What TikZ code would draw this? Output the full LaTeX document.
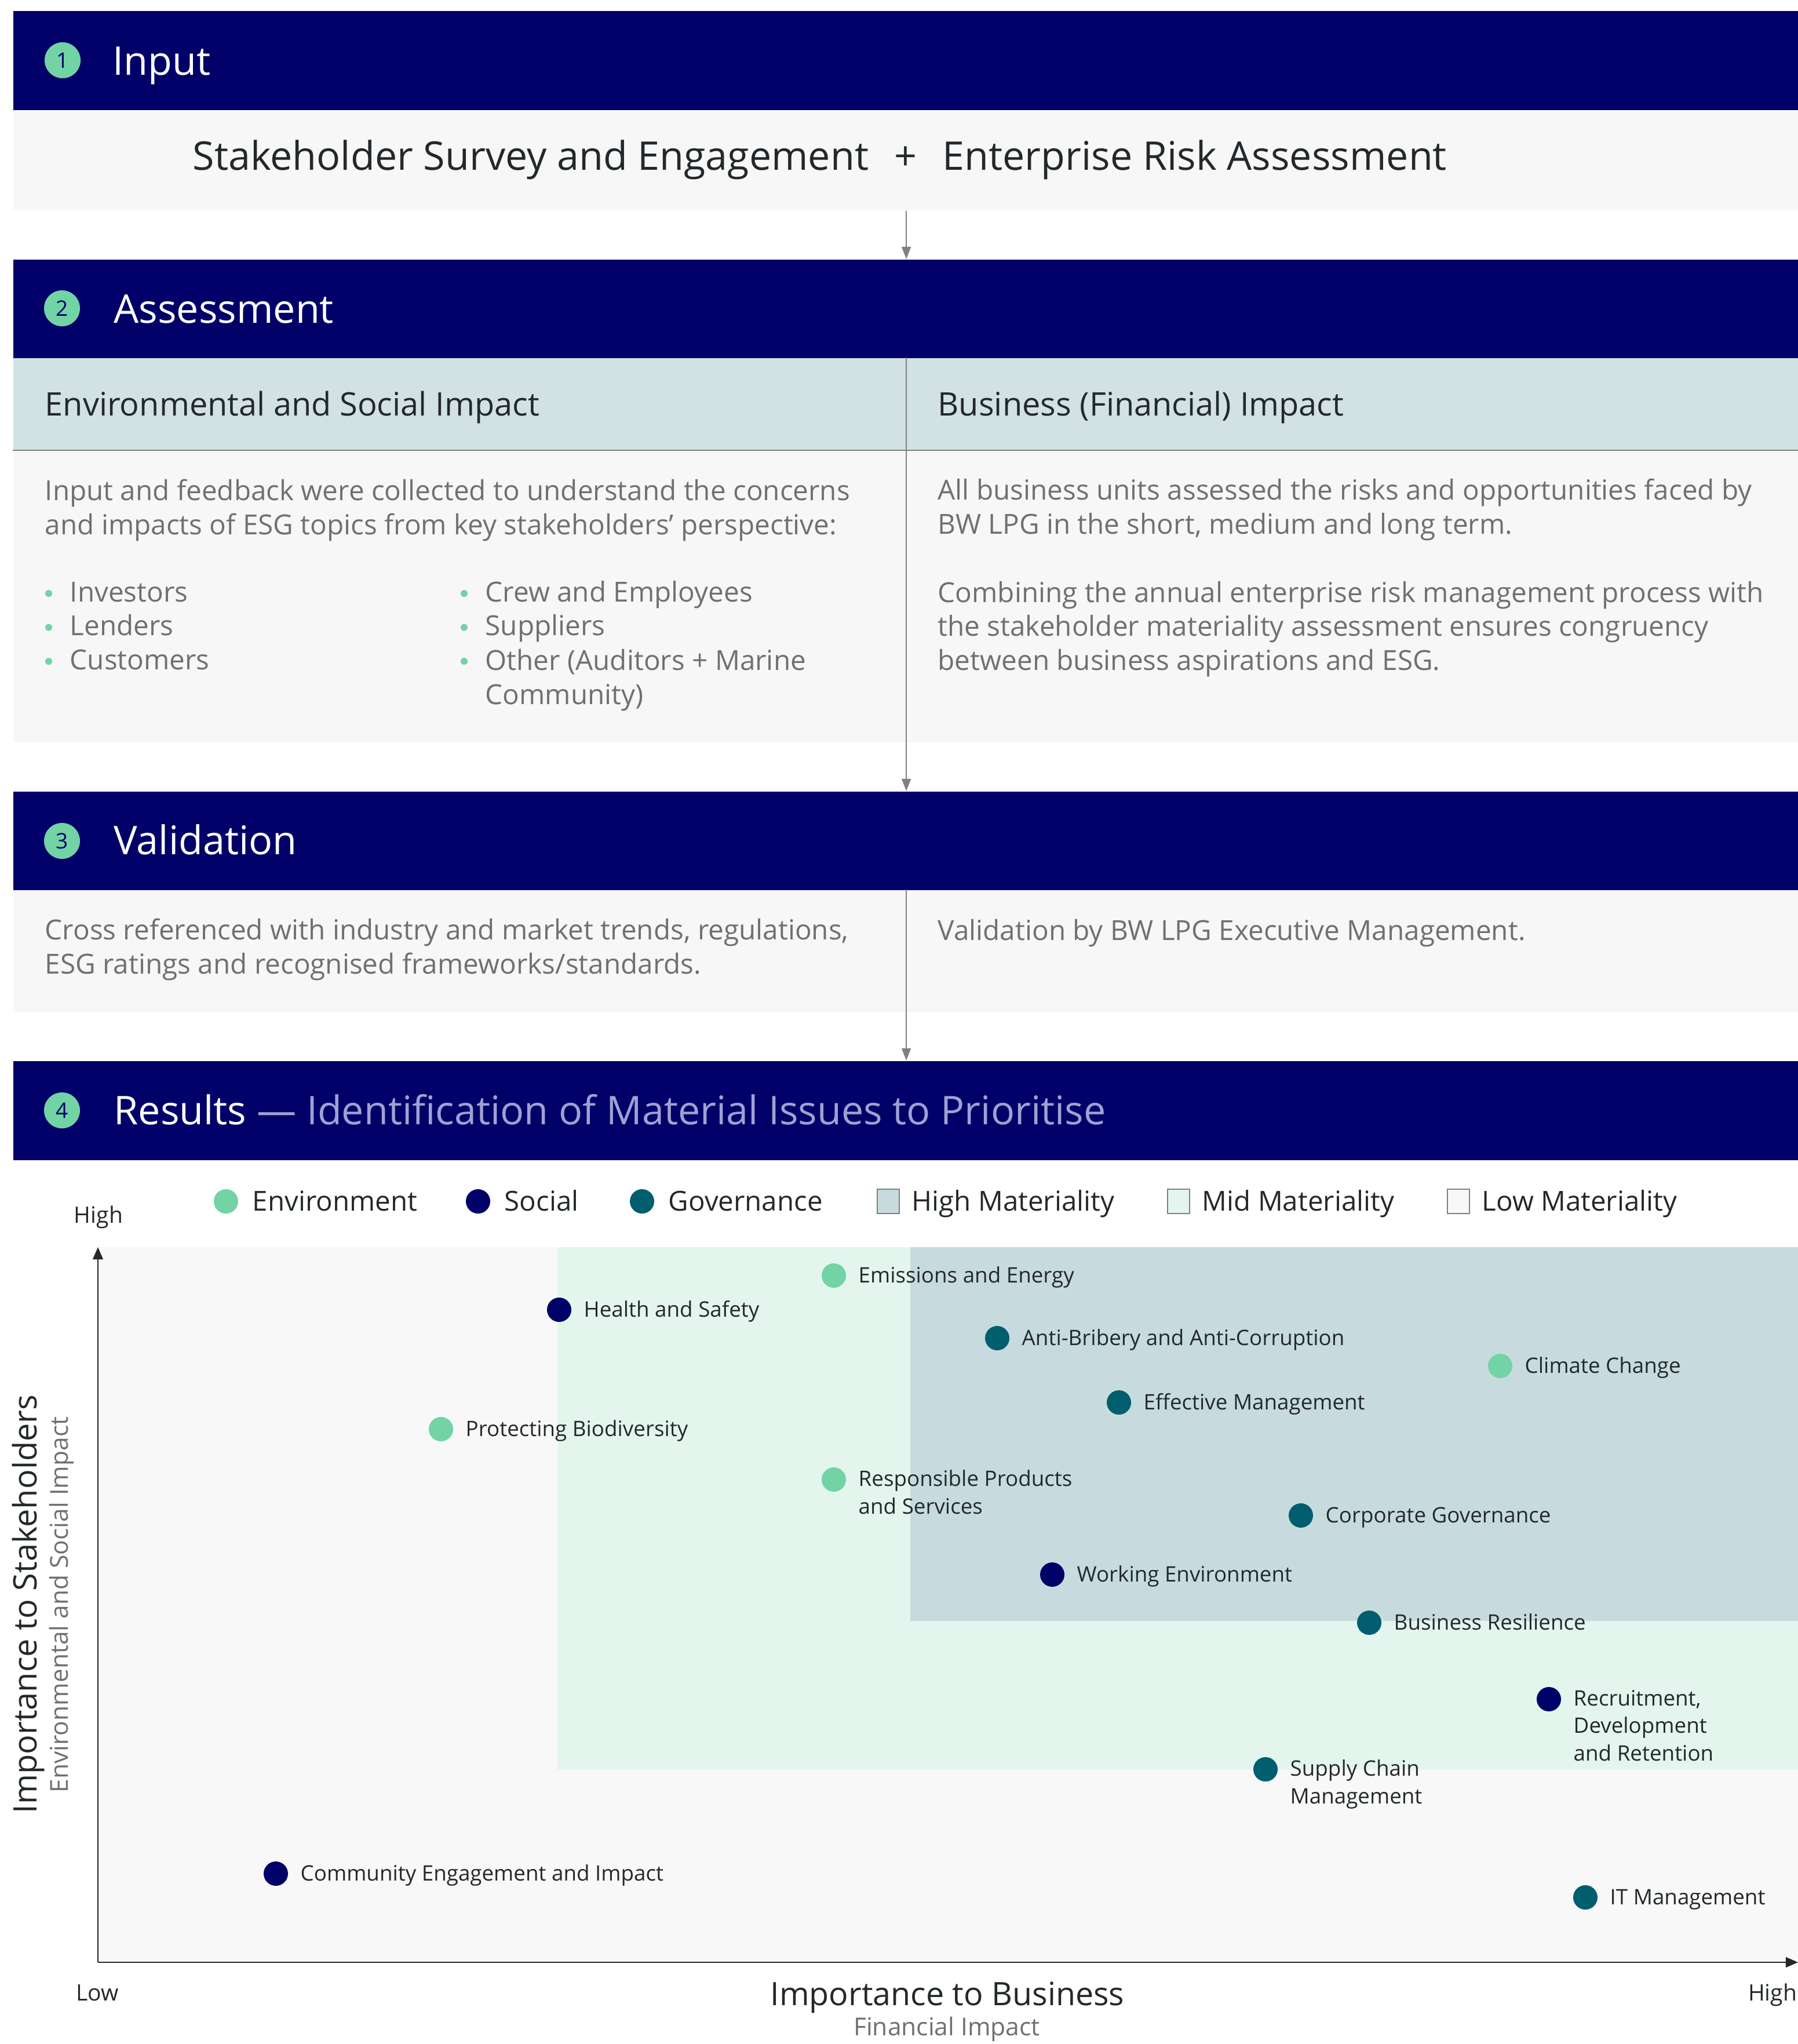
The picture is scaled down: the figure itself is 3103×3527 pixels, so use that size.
\documentclass[tikz,border=0pt]{standalone}
\usepackage{fontspec}
\setmainfont{Open Sans}
\usetikzlibrary{arrows.meta}

\definecolor{esgnavy}{HTML}{000068}
\definecolor{esggreen}{HTML}{72D3A5}
\definecolor{esgteal}{HTML}{005E6E}
\definecolor{highmat}{HTML}{C7DBDF}
\definecolor{midmat}{HTML}{E4F5EE}
\definecolor{lowmat}{HTML}{F8F8F8}
\definecolor{subrowfill}{HTML}{D2E1E4}
\definecolor{panelfill}{HTML}{F7F7F7}
\definecolor{inktext}{HTML}{23282B}
\definecolor{bodytext}{HTML}{707070}
\definecolor{lavender}{HTML}{A0A0D4}
\definecolor{arrowgray}{HTML}{808080}

\tikzset{
  bar/.style={anchor=north west, inner sep=0, minimum width=30.81cm},
  headbar/.style={bar, fill=esgnavy, minimum height=1.71cm},
  panel/.style={bar, fill=panelfill},
  subpanel/.style={bar, fill=subrowfill},
  stepnum/.style={circle, fill=esggreen, minimum size=0.62cm, inner sep=0,
    text=esgnavy, font=\fontsize{10.5}{11}\selectfont},
  headtitle/.style={anchor=base west, inner sep=0, text=white,
    font=\fontsize{19.4}{20}\selectfont},
  subtitle/.style={anchor=base west, inner sep=0, text=inktext,
    font=\fontsize{15.9}{19}\selectfont},
  bodytxt/.style={anchor=base west, inner sep=0, align=left, text=bodytext,
    font=\fontsize{13.55}{16.6}\selectfont},
  legtxt/.style={anchor=base west, inner sep=0, text=inktext,
    font=\fontsize{13.5}{15}\selectfont},
  topictxt/.style={anchor=base west, inner sep=0, align=left, text=inktext,
    font=\fontsize{10.45}{13.4}\selectfont},
  axistxt/.style={anchor=base, inner sep=0, text=inktext,
    font=\fontsize{11.1}{13}\selectfont},
  dot/.style={circle, fill=#1, minimum size=0.42cm, inner sep=0},
  legbox/.style={fill=#1, draw=arrowgray, line width=0.6pt, minimum width=0.38cm,
    minimum height=0.42cm, inner sep=0},
  flow/.style={draw=arrowgray, line width=0.6pt, -{Triangle[length=6pt,width=4.5pt]}},
  axis/.style={draw=inktext, line width=0.8pt, -{Triangle[length=6pt,width=5pt]}}
}

\begin{document}
\begin{tikzpicture}[x=0.01cm,y=-0.01cm]
  \useasboundingbox (0,0) rectangle (3103,3527);

  % Step bars and panels.
  \node[headbar] (head1) at (22,18) {};
  \node[panel, minimum height=1.73cm] (inbody) at (22,189) {};
  \node[headbar] (head2) at (22,447) {};
  \node[subpanel, minimum height=1.60cm] (subrow) at (22,617) {};
  \node[panel, minimum height=5.03cm] (asbody) at (22,777) {};
  \node[headbar] (head3) at (22,1365) {};
  \node[panel, minimum height=2.11cm] (valbody) at (22,1535) {};
  \node[headbar] (head4) at (22,1830) {};

  % Flow between the steps.
  \draw[arrowgray, line width=0.6pt] (asbody.north west) -- (asbody.north east);
  \draw[flow] (inbody.south) -- (head2.north);
  \draw[flow] (subrow.north) -- (head3.north);
  \draw[flow] (valbody.north) -- (head4.north);

  % Step headings.
  \node[stepnum] (num1) at (108,104) {1};
  \node[headtitle] (title1) at (194,130) {Input};
  \node[stepnum] (num2) at (107,532) {2};
  \node[headtitle] (title2) at (196,557) {Assessment};
  \node[stepnum] (num3) at (107,1451) {3};
  \node[headtitle] (title3) at (196,1474) {Validation};
  \node[stepnum] (num4) at (107,1916) {4};
  \node[headtitle] (title4) at (196,1940)
    {Results \textcolor{lavender}{— Identification of Material Issues to Prioritise}};

  % Step 1 content.
  \node[headtitle, text=inktext] (survey) at (332,293) {Stakeholder Survey and Engagement};
  \node[headtitle, text=inktext, anchor=base] (plus) at (1563,293) {+};
  \node[headtitle, text=inktext] (erisk) at (1626,293) {Enterprise Risk Assessment};

  % Step 2 content (multi-line nodes sit on their last baseline).
  \node[subtitle] (estitle) at (77,717) {Environmental and Social Impact};
  \node[subtitle] (bztitle) at (1618,717) {Business (Financial) Impact};
  \node[bodytxt] (esbody) at (77,922)
    {Input and feedback were collected to understand the concerns\\
     and impacts of ESG topics from key stakeholders’ perspective:};
  \foreach \txt [count=\i] in {Investors, Lenders, Customers} {
    \fill[esggreen] (84,{1024+(\i-1)*58.6}) circle (6);
    \node[bodytxt] (lista\i) at (120,{1038+(\i-1)*58.6}) {\txt};
  }
  \foreach \txt [count=\i] in {Crew and Employees, Suppliers} {
    \fill[esggreen] (801,{1024+(\i-1)*58.6}) circle (6);
    \node[bodytxt] (listb\i) at (837,{1038+(\i-1)*58.6}) {\txt};
  }
  \fill[esggreen] (801,1141) circle (6);
  \node[bodytxt] (listb3) at (837,1215) {Other (Auditors + Marine\\Community)};
  \node[bodytxt] (bzbodya) at (1618,921)
    {All business units assessed the risks and opportunities faced by\\
     BW LPG in the short, medium and long term.};
  \node[bodytxt] (bzbodyb) at (1618,1156)
    {Combining the annual enterprise risk management process with\\
     the stakeholder materiality assessment ensures congruency\\
     between business aspirations and ESG.};

  % Step 3 content.
  \node[bodytxt] (valleft) at (77,1680)
    {Cross referenced with industry and market trends, regulations,\\
     ESG ratings and recognised frameworks/standards.};
  \node[bodytxt] (valright) at (1618,1622) {Validation by BW LPG Executive Management.};

  % Legend.
  \foreach \lx/\lc/\lt [count=\i] in {390/esggreen/Environment, 825/esgnavy/Social, 1108/esgteal/Governance} {
    \node[dot=\lc] (legdot\i) at (\lx,2073) {};
    \node[legtxt] (legtxt\i) at ({\lx+45},2089) {\lt};
  }
  \foreach \lx/\lc/\lt [count=\i] in {1533/highmat/High Materiality, 2034/midmat/Mid Materiality, 2517/lowmat/Low Materiality} {
    \node[legbox=\lc] (legbox\i) at (\lx,2073) {};
    \node[legtxt] (legmat\i) at ({\lx+40},2089) {\lt};
  }

  % Materiality zones.
  \fill[lowmat] (169,2152) rectangle (3103,3386);
  \fill[midmat] (962,2152) rectangle (3103,3054);
  \fill[highmat] (1571,2152) rectangle (3103,2797);

  % Axes.
  \coordinate (origin) at (169,3386);
  \coordinate (ytop) at (169,2152);
  \coordinate (xend) at (3103,3386);
  \draw[axis] (origin) -- (ytop);
  \draw[axis] (origin) -- (xend);
  \node[axistxt] (yhigh) at (170,2110) {High};
  \node[axistxt] (xlow) at (168,3452) {Low};
  \node[axistxt] (xhigh) at (3059,3452) {High};
  \node[axistxt, font=\fontsize{15.8}{17}\selectfont] (xtitle) at (1635,3460) {Importance to Business};
  \node[axistxt, text=bodytext, font=\fontsize{12.1}{13}\selectfont] (xsub) at (1634,3512) {Financial Impact};
  \node[axistxt, rotate=90, font=\fontsize{15.9}{17}\selectfont] (ytitle) at (63,2768) {Importance to Stakeholders};
  \node[axistxt, rotate=90, text=bodytext, font=\fontsize{12.1}{13}\selectfont] (ysub) at (117,2769) {Environmental and Social Impact};

  % Material topics: x / y / colour / lines / label.
  \foreach \px/\py/\pc/\pn/\pt [count=\i] in {
      1439/2201/esggreen/1/Emissions and Energy,
      965/2260/esgnavy/1/Health and Safety,
      1721/2309/esgteal/1/Anti-Bribery and Anti-Corruption,
      2589/2357/esggreen/1/Climate Change,
      1931/2420/esgteal/1/Effective Management,
      761/2466/esggreen/1/Protecting Biodiversity,
      1439/2553/esggreen/2/{Responsible Products\\and Services},
      2245/2615/esgteal/1/Corporate Governance,
      1816/2717/esgnavy/1/Working Environment,
      2363/2800/esgteal/1/Business Resilience,
      2673/2932/esgnavy/3/{Recruitment,\\Development\\and Retention},
      2184/3053/esgteal/2/{Supply Chain\\Management},
      476/3233/esgnavy/1/Community Engagement and Impact,
      2736/3274/esgteal/1/IT Management} {
    \node[dot=\pc] (topic\i) at (\px,\py) {};
    \node[topictxt] (topiclabel\i) at ({\px+42},{\py+12+(\pn-1)*47}) {\pt};
  }
\end{tikzpicture}
\end{document}
